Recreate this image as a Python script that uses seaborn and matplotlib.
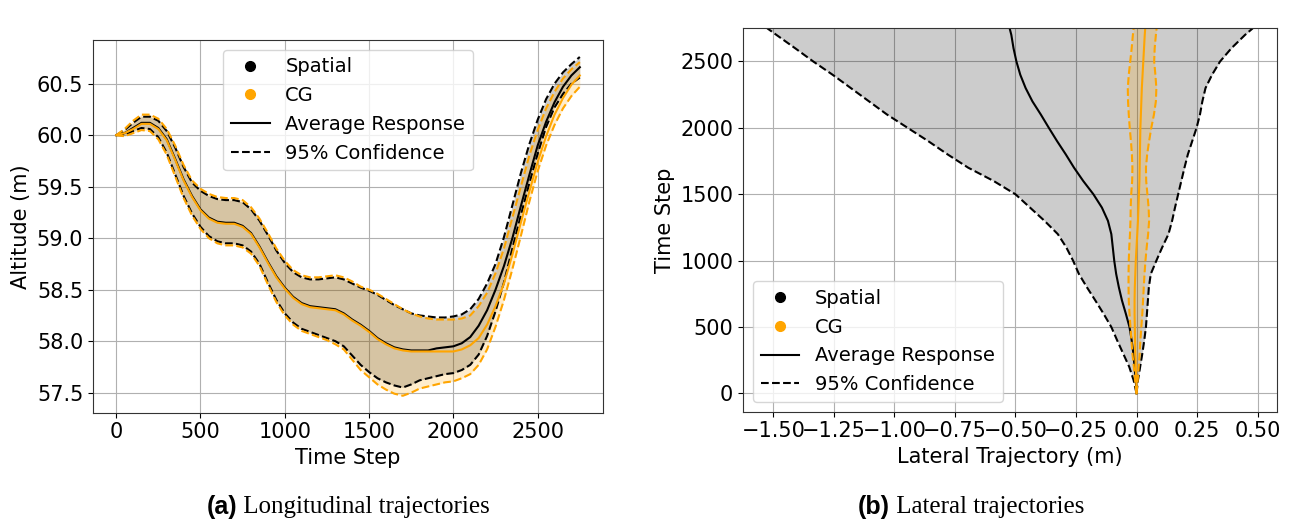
import numpy as np
import matplotlib
matplotlib.use("Agg")
import matplotlib.pyplot as plt
import seaborn as sns
from matplotlib.lines import Line2D

# ---------------- data ----------------
# Longitudinal panel: time steps 0, 50, ..., 2750
time_long = list(range(0, 2751, 50))

alt_spatial_mean = [
    60.00, 60.02, 60.07, 60.12, 60.12, 60.07, 59.96, 59.77, 59.57, 59.41,
    59.28, 59.20, 59.16, 59.15, 59.15, 59.12, 59.05, 58.92, 58.77, 58.63,
    58.52, 58.43, 58.37, 58.34, 58.33, 58.32, 58.31, 58.27, 58.21, 58.16,
    58.10, 58.03, 57.98, 57.94, 57.92, 57.91, 57.91, 57.91, 57.93, 57.94,
    57.95, 57.98, 58.04, 58.15, 58.30, 58.50, 58.73, 59.00, 59.31, 59.61,
    59.90, 60.13, 60.32, 60.47, 60.58, 60.66]
alt_spatial_upper = [
    60.00, 60.05, 60.12, 60.18, 60.18, 60.14, 60.04, 59.88, 59.69, 59.54,
    59.46, 59.41, 59.38, 59.37, 59.37, 59.35, 59.28, 59.17, 59.03, 58.88,
    58.76, 58.67, 58.62, 58.60, 58.60, 58.61, 58.62, 58.60, 58.56, 58.52,
    58.49, 58.45, 58.40, 58.35, 58.31, 58.27, 58.25, 58.24, 58.23, 58.23,
    58.24, 58.26, 58.31, 58.41, 58.56, 58.75, 59.01, 59.32, 59.63, 59.91,
    60.15, 60.35, 60.50, 60.61, 60.69, 60.76]
alt_spatial_lower = [
    60.00, 60.00, 60.04, 60.07, 60.06, 59.98, 59.83, 59.62, 59.41, 59.24,
    59.11, 59.02, 58.97, 58.95, 58.95, 58.93, 58.87, 58.75, 58.57, 58.40,
    58.27, 58.18, 58.12, 58.09, 58.06, 58.03, 58.00, 57.95, 57.86, 57.77,
    57.70, 57.64, 57.60, 57.57, 57.55, 57.58, 57.62, 57.64, 57.66, 57.68,
    57.69, 57.72, 57.77, 57.87, 58.05, 58.29, 58.57, 58.90, 59.22, 59.53,
    59.82, 60.08, 60.27, 60.40, 60.50, 60.56]
alt_cg_mean = [
    60.00, 60.02, 60.06, 60.11, 60.11, 60.06, 59.95, 59.76, 59.56, 59.40,
    59.27, 59.19, 59.15, 59.14, 59.14, 59.11, 59.04, 58.91, 58.76, 58.62,
    58.51, 58.42, 58.36, 58.33, 58.32, 58.31, 58.30, 58.26, 58.20, 58.15,
    58.09, 58.02, 57.97, 57.93, 57.91, 57.90, 57.90, 57.90, 57.90, 57.90,
    57.90, 57.92, 57.96, 58.03, 58.16, 58.34, 58.56, 58.84, 59.15, 59.45,
    59.74, 59.99, 60.20, 60.36, 60.49, 60.58]
alt_cg_upper = [
    60.00, 60.06, 60.14, 60.20, 60.20, 60.16, 60.06, 59.90, 59.71, 59.56,
    59.48, 59.43, 59.40, 59.39, 59.39, 59.37, 59.30, 59.19, 59.05, 58.90,
    58.78, 58.69, 58.64, 58.62, 58.62, 58.63, 58.64, 58.62, 58.58, 58.53,
    58.50, 58.46, 58.41, 58.36, 58.31, 58.27, 58.24, 58.22, 58.21, 58.21,
    58.21, 58.22, 58.25, 58.34, 58.47, 58.66, 58.90, 59.20, 59.50, 59.80,
    60.05, 60.26, 60.42, 60.55, 60.64, 60.71]
alt_cg_lower = [
    60.00, 59.99, 60.02, 60.05, 60.04, 59.96, 59.81, 59.60, 59.39, 59.22,
    59.09, 59.00, 58.95, 58.93, 58.93, 58.91, 58.85, 58.73, 58.55, 58.38,
    58.25, 58.16, 58.10, 58.07, 58.04, 58.01, 57.97, 57.92, 57.82, 57.72,
    57.65, 57.58, 57.53, 57.49, 57.47, 57.50, 57.54, 57.56, 57.58, 57.60,
    57.61, 57.64, 57.68, 57.77, 57.92, 58.14, 58.40, 58.70, 59.02, 59.35,
    59.65, 59.90, 60.10, 60.26, 60.38, 60.47]

# Lateral panel: time steps 0, 100, ..., 2700, 2750
time_lat = [0, 100, 200, 300, 400, 500, 600, 700, 800, 900, 1000, 1100, 1200, 1300,
            1400, 1500, 1600, 1700, 1800, 1900, 2000, 2100, 2200, 2300, 2400, 2500,
            2600, 2700, 2750]
lat_spatial_mean = [0.000, -0.003, -0.008, -0.013, -0.020, -0.029, -0.044, -0.060, -0.073,
                    -0.084, -0.092, -0.098, -0.104, -0.118, -0.143, -0.178, -0.220, -0.258,
                    -0.292, -0.328, -0.362, -0.395, -0.430, -0.458, -0.480, -0.496, -0.508,
                    -0.517, -0.524]
lat_spatial_lower = [0.000, -0.012, -0.030, -0.055, -0.080, -0.104, -0.136, -0.170, -0.205,
                     -0.238, -0.262, -0.290, -0.325, -0.380, -0.440, -0.500, -0.590, -0.695,
                     -0.780, -0.860, -0.945, -1.030, -1.105, -1.180, -1.255, -1.335, -1.410,
                     -1.487, -1.525]
lat_spatial_upper = [0.000, 0.006, 0.015, 0.024, 0.032, 0.039, 0.043, 0.047, 0.051, 0.059,
                     0.082, 0.106, 0.132, 0.147, 0.159, 0.172, 0.185, 0.198, 0.212, 0.230,
                     0.248, 0.262, 0.272, 0.285, 0.312, 0.345, 0.392, 0.448, 0.480]
lat_cg_mean = [0.000, -0.001, -0.003, -0.005, -0.006, -0.007, -0.008, -0.008, -0.007, -0.005,
               -0.003, 0.000, 0.003, 0.006, 0.008, 0.010, 0.012, 0.013, 0.014, 0.015, 0.016,
               0.018, 0.020, 0.022, 0.025, 0.028, 0.031, 0.034, 0.036]
lat_cg_lower = [0.000, -0.006, -0.011, -0.017, -0.021, -0.025, -0.029, -0.032, -0.033, -0.033,
                -0.032, -0.030, -0.027, -0.025, -0.024, -0.022, -0.018, -0.017, -0.019,
                -0.023, -0.028, -0.032, -0.035, -0.036, -0.032, -0.026, -0.020, -0.015, -0.012]
lat_cg_upper = [0.000, 0.005, 0.009, 0.013, 0.016, 0.020, 0.024, 0.027, 0.030, 0.033, 0.037,
                0.042, 0.048, 0.052, 0.050, 0.045, 0.040, 0.039, 0.044, 0.052, 0.061, 0.072,
                0.080, 0.082, 0.078, 0.073, 0.075, 0.080, 0.083]

series_colors = ["black", "orange"]
legend_labels = ["Spatial", "CG", "Average Response", "95% Confidence"]
caption_a = ("(a)", "Longitudinal trajectories")
caption_b = ("(b)", "Lateral trajectories")

# ---------------- style ----------------
plt.rcParams.update({
    "font.family": ["DejaVu Sans"],
    "font.size": 15,
    "axes.grid": True,
    "grid.color": "#b0b0b0",
    "grid.linewidth": 0.8,
    "axes.linewidth": 0.8,
    "xtick.labelsize": 15,
    "ytick.labelsize": 15,
    "axes.labelsize": 15,
    "legend.fontsize": 14,
})

fig = plt.figure(figsize=(13.09, 5.21), dpi=100)
W, H = 1309, 521
ax1 = fig.add_axes([93 / W, 1 - 412.7 / H, (603 - 93) / W, (412.7 - 40) / H])
ax2 = fig.add_axes([743 / W, 1 - 411.7 / H, (1277 - 743) / W, (411.7 - 28.3) / H])

tl = np.array(time_long)
tt = np.array(time_lat)
long_sets = [
    (alt_spatial_mean, alt_spatial_lower, alt_spatial_upper),
    (alt_cg_mean, alt_cg_lower, alt_cg_upper),
]
lat_sets = [
    (lat_spatial_mean, lat_spatial_lower, lat_spatial_upper),
    (lat_cg_mean, lat_cg_lower, lat_cg_upper),
]

for (m, lo, up), col in zip(long_sets, series_colors):
    ax1.fill_between(tl, lo, up, color=col, alpha=0.2, linewidth=0)
    sns.lineplot(x=tl, y=m, ax=ax1, color=col, linewidth=1.5)
    sns.lineplot(x=tl, y=lo, ax=ax1, color=col, linewidth=1.5, linestyle="--")
    sns.lineplot(x=tl, y=up, ax=ax1, color=col, linewidth=1.5, linestyle="--")

for (m, lo, up), col in zip(lat_sets, series_colors):
    ax2.fill_betweenx(tt, lo, up, color=col, alpha=0.2, linewidth=0)
    sns.lineplot(x=m, y=tt, ax=ax2, color=col, linewidth=1.5, orient="y")
    sns.lineplot(x=lo, y=tt, ax=ax2, color=col, linewidth=1.5, linestyle="--", orient="y")
    sns.lineplot(x=up, y=tt, ax=ax2, color=col, linewidth=1.5, linestyle="--", orient="y")

ax1.set_xlabel("Time Step")
ax1.set_ylabel("Altitude (m)")
ax1.set_xticks([0, 500, 1000, 1500, 2000, 2500])
ax1.set_yticks([57.5, 58.0, 58.5, 59.0, 59.5, 60.0, 60.5])

ax2.set_xlabel("Lateral Trajectory (m)")
ax2.set_ylabel("Time Step")
ax2.set_xticks([-1.5, -1.25, -1.0, -0.75, -0.5, -0.25, 0.0, 0.25, 0.5])
ax2.set_yticks([0, 500, 1000, 1500, 2000, 2500])
ax2.set_ylim(-0.05 * time_lat[-1], time_lat[-1])

for ax in (ax1, ax2):
    ax.set_axisbelow(True)
    for s in ax.spines.values():
        s.set_color("#333333")

def handles():
    return [
        Line2D([], [], marker="o", color="black", linestyle="none", markersize=7),
        Line2D([], [], marker="o", color="orange", linestyle="none", markersize=7),
        Line2D([], [], color="black", linewidth=1.5),
        Line2D([], [], color="black", linewidth=1.5, linestyle="--"),
    ]

ax1.legend(handles(), legend_labels, loc="upper center")
ax2.legend(handles(), legend_labels, loc="lower left")

# captions
def caption(parts, cx, cy):
    t1 = fig.text(0, cy, parts[0], fontsize=18, fontweight="bold",
                  family=["Liberation Sans", "DejaVu Sans"], va="center", ha="left")
    t2 = fig.text(0, cy, " " + parts[1], fontsize=18,
                  family=["Liberation Serif", "DejaVu Serif"], va="center", ha="left")
    fig.canvas.draw()
    r = fig.canvas.get_renderer()
    w1 = t1.get_window_extent(r).width
    w2 = t2.get_window_extent(r).width
    start = cx - (w1 + w2) / 2
    t1.set_x(start / W)
    t2.set_x((start + w1) / W)

caption(caption_a, 348, 1 - 507 / H)
caption(caption_b, 971, 1 - 507 / H)

fig.savefig("out.png", dpi=100)
